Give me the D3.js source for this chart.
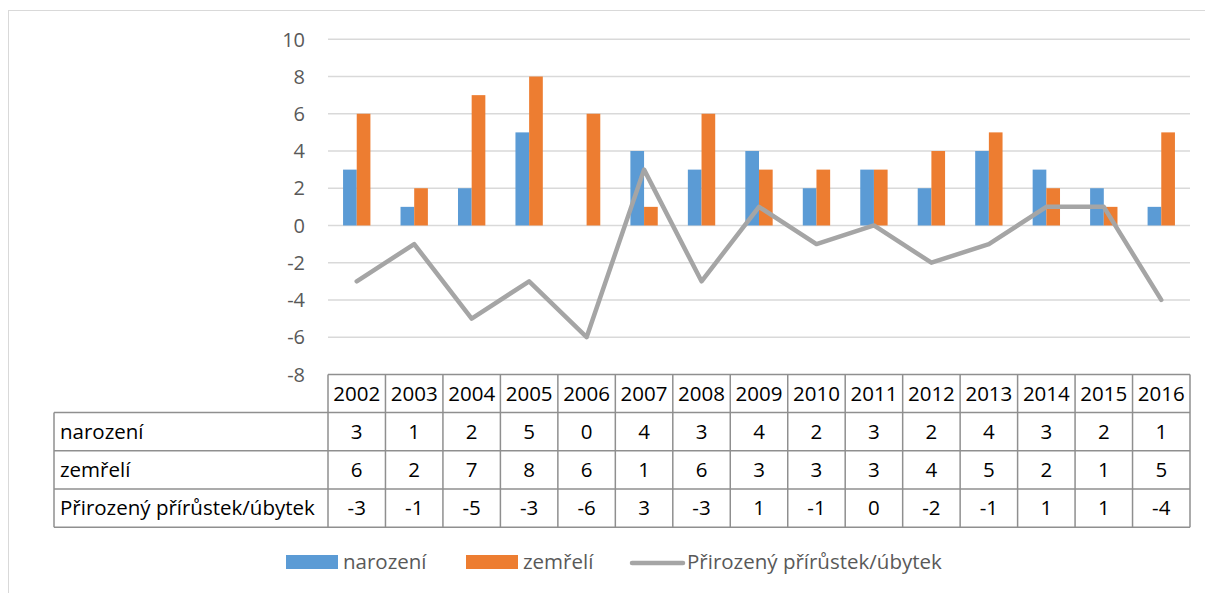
<html>
  <head>
    <meta charset="utf-8">
    <title>Narození a zemřelí 2002–2016</title>
    <script src="https://cdnjs.cloudflare.com/ajax/libs/d3/7.8.5/d3.min.js"></script>
    <style>
      body { margin: 0; background: #fff; }
      text { font-family: "Open Sans", "DejaVu Sans", sans-serif; }
    </style>
  </head>
  <body>
    <div id="chart"></div>
<script>
  // data
  const years = ['2002','2003','2004','2005','2006','2007','2008','2009','2010','2011','2012','2013','2014','2015','2016'];
  const narozeni = [3, 1, 2, 5, 0, 4, 3, 4, 2, 3, 2, 4, 3, 2, 1];
  const zemreli  = [6, 2, 7, 8, 6, 1, 6, 3, 3, 3, 4, 5, 2, 1, 5];
  const prirustek = [-3, -1, -5, -3, -6, 3, -3, 1, -1, 0, -2, -1, 1, 1, -4];
  const yTicks = [-8, -6, -4, -2, 0, 2, 4, 6, 8, 10];
  const seriesNames = ['narození', 'zemřelí', 'Přirozený přírůstek/úbytek'];
  const colors = ['#5b9bd5', '#ed7d31', '#a5a5a5'];

  const W = 1205, H = 593;
  const plotL = 328, plotR = 1190, plotT = 39.3, plotB = 374.4;
  const rowH = 38.2, labelX = 54;
  const fs = '20.5px';

  const svg = d3.select('#chart').append('svg')
    .attr('width', W).attr('height', H);

  // outer chart frame
  svg.append('rect')
    .attr('x', 8.5).attr('y', 10.5)
    .attr('width', 1300).attr('height', 700)
    .attr('fill', 'none').attr('stroke', '#d9d9d9');

  const x = d3.scaleBand().domain(years).range([plotL, plotR]).padding(0);
  const y = d3.scaleLinear().domain([-8, 10]).range([plotB, plotT]);

  // gridlines
  svg.append('g').selectAll('line')
    .data(yTicks.filter(d => d > -8))
    .join('line')
    .attr('x1', plotL).attr('x2', plotR)
    .attr('y1', d => y(d)).attr('y2', d => y(d))
    .attr('stroke', '#d9d9d9').attr('stroke-width', 1.5);

  // y labels
  svg.append('g').selectAll('text')
    .data(yTicks)
    .join('text')
    .attr('x', 305)
    .attr('y', d => y(d))
    .attr('dy', '0.36em')
    .attr('text-anchor', 'end')
    .attr('fill', '#595959')
    .style('font-size', '20px')
    .text(d => d);

  // bars
  const half = x.bandwidth() * 0.238;
  const inner = d3.scaleBand().domain([0, 1]).range([-half, half]);
  const barData = [];
  years.forEach((yr, i) => {
    barData.push({ yr, s: 0, v: narozeni[i] });
    barData.push({ yr, s: 1, v: zemreli[i] });
  });
  svg.append('g').selectAll('rect')
    .data(barData)
    .join('rect')
    .attr('x', d => x(d.yr) + x.bandwidth() / 2 + inner(d.s))
    .attr('width', inner.bandwidth())
    .attr('y', d => y(Math.max(0, d.v)))
    .attr('height', d => Math.abs(y(d.v) - y(0)))
    .attr('fill', d => colors[d.s]);

  // line
  const line = d3.line()
    .x((d, i) => x(years[i]) + x.bandwidth() / 2)
    .y(d => y(d));
  svg.append('path')
    .datum(prirustek)
    .attr('d', line)
    .attr('fill', 'none')
    .attr('stroke', colors[2])
    .attr('stroke-width', 4.5)
    .attr('stroke-linecap', 'round')
    .attr('stroke-linejoin', 'round');

  // data table
  const table = svg.append('g');
  const tStroke = '#8f8f8f';
  const rows = [narozeni, zemreli, prirustek];
  const rowTop = i => plotB + i * rowH;

  // horizontal lines
  table.append('line')
    .attr('x1', plotL).attr('x2', plotR)
    .attr('y1', plotB).attr('y2', plotB)
    .attr('stroke', tStroke).attr('stroke-width', 1.5);
  table.selectAll('line.h')
    .data([1, 2, 3, 4])
    .join('line')
    .attr('class', 'h')
    .attr('x1', labelX).attr('x2', plotR)
    .attr('y1', d => rowTop(d)).attr('y2', d => rowTop(d))
    .attr('stroke', tStroke).attr('stroke-width', 1.5);

  // vertical lines
  const vx = years.map(yr => x(yr)).concat([plotR]);
  table.selectAll('line.v')
    .data(vx)
    .join('line')
    .attr('class', 'v')
    .attr('x1', d => d).attr('x2', d => d)
    .attr('y1', plotB).attr('y2', rowTop(4))
    .attr('stroke', tStroke).attr('stroke-width', 1.5);
  table.append('line')
    .attr('x1', labelX).attr('x2', labelX)
    .attr('y1', rowTop(1)).attr('y2', rowTop(4))
    .attr('stroke', tStroke).attr('stroke-width', 1.5);

  // header years
  table.selectAll('text.yr')
    .data(years)
    .join('text')
    .attr('class', 'yr')
    .attr('x', d => x(d) + x.bandwidth() / 2)
    .attr('y', rowTop(0) + rowH / 2)
    .attr('dy', '0.36em')
    .attr('text-anchor', 'middle')
    .attr('fill', '#000')
    .style('font-size', fs)
    .text(d => d);

  // row labels + values
  rows.forEach((vals, r) => {
    table.append('text')
      .attr('x', 60)
      .attr('y', rowTop(r + 1) + rowH / 2)
      .attr('dy', '0.36em')
      .attr('fill', '#000')
      .style('font-size', fs)
      .text(seriesNames[r]);
    table.selectAll('text.r' + r)
      .data(vals)
      .join('text')
      .attr('class', 'r' + r)
      .attr('x', (d, i) => x(years[i]) + x.bandwidth() / 2)
      .attr('y', rowTop(r + 1) + rowH / 2)
      .attr('dy', '0.36em')
      .attr('text-anchor', 'middle')
      .attr('fill', '#000')
      .style('font-size', fs)
      .text(d => d);
  });

  // legend
  const legend = svg.append('g').attr('transform', 'translate(0, 562)');
  const legendItems = [
    { x: 286, tx: 343, type: 'rect' },
    { x: 466, tx: 523, type: 'rect' },
    { x: 632, tx: 687, type: 'line' }
  ];
  legendItems.forEach((it, i) => {
    if (it.type === 'rect') {
      legend.append('rect')
        .attr('x', it.x).attr('y', -7)
        .attr('width', 52).attr('height', 14)
        .attr('fill', colors[i]);
    } else {
      legend.append('line')
        .attr('x1', it.x).attr('x2', it.x + 51)
        .attr('y1', 1).attr('y2', 1)
        .attr('stroke', colors[i]).attr('stroke-width', 4.5)
        .attr('stroke-linecap', 'round');
    }
    legend.append('text')
      .attr('x', it.tx)
      .attr('y', 0)
      .attr('dy', '0.36em')
      .attr('fill', '#595959')
      .style('font-size', fs)
      .text(seriesNames[i]);
  });
</script>
  </body>
</html>
